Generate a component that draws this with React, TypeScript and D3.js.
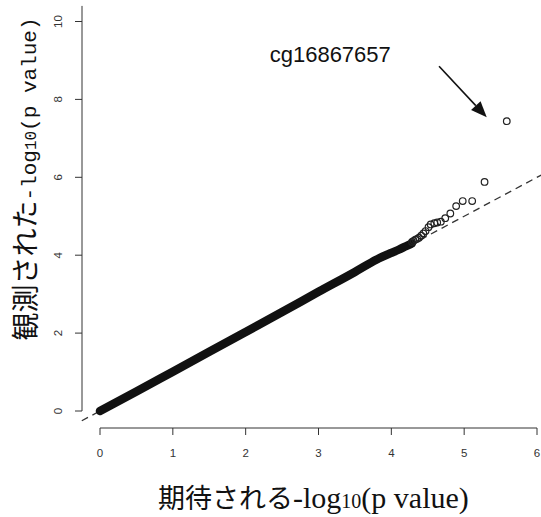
import React from 'react';
import * as d3 from 'd3';

// QQ plot: expected vs observed -log10(p)
const xTicks = [0, 1, 2, 3, 4, 5, 6];
const yTicks = [0, 2, 4, 6, 8, 10];

// dense part of the cloud (points overlap into a solid band)
const bandExpected = [0, 0.5, 1, 1.5, 2, 2.5, 3, 3.5, 3.8, 4.0, 4.1, 4.2, 4.28];
const bandObserved = [0, 0.5, 1.01, 1.52, 2.03, 2.54, 3.06, 3.57, 3.89, 4.06, 4.14, 4.23, 4.3];

// top ranked points, drawn one by one
const tailExpected = [5.585, 5.28, 5.11, 4.98, 4.89, 4.81, 4.74, 4.68, 4.63, 4.59, 4.54, 4.51, 4.47, 4.44, 4.41, 4.38, 4.355, 4.33, 4.306, 4.284];
const tailObserved = [7.44, 5.88, 5.39, 5.39, 5.26, 5.07, 4.95, 4.86, 4.84, 4.82, 4.79, 4.72, 4.62, 4.56, 4.5, 4.45, 4.42, 4.4, 4.37, 4.34];

const labelText = 'cg16867657';

export default function App() {
    const width = 541;
    const height = 517;

    const xScale = d3.scaleLinear().domain([0, 6]).range([100, 537]);
    const yScale = d3.scaleLinear().domain([0, 10]).range([411, 21.5]);

    const band = d3.line<number>()
        .x((d, i) => xScale(bandExpected[i]))
        .y((d, i) => yScale(bandObserved[i]))
        .curve(d3.curveMonotoneX);

    // y = x reference line
    const refLine = d3.line<number>()
        .x((d) => xScale(d))
        .y((d) => yScale(d));

    // annotation arrow (data coords)
    const ax0 = xScale(4.655), ay0 = yScale(8.85);
    const ax1 = xScale(5.31), ay1 = yScale(7.54);
    const ang = Math.atan2(ay1 - ay0, ax1 - ax0);
    const headLen = 16, headW = 6.5;
    const bx = ax1 - headLen * Math.cos(ang), by = ay1 - headLen * Math.sin(ang);
    const head = [
        [ax1, ay1],
        [bx + headW * Math.sin(ang), by - headW * Math.cos(ang)],
        [bx - headW * Math.sin(ang), by + headW * Math.cos(ang)],
    ].map((p) => p.join(',')).join(' ');

    const axisColor = '#333';
    const tickFont = '"Liberation Sans", Arial, sans-serif';

    return (
        <svg width={width} height={height} style={{ position: 'absolute', left: 0, top: 0, background: '#fff' }}>
            {/* reference line */}
            <path d={refLine([-0.25, 6.06]) || ''} fill="none" stroke="#333" strokeWidth={1.3} strokeDasharray="7,5" />

            {/* dense band of points */}
            <path d={band(bandExpected) || ''} fill="none" stroke="#111" strokeWidth={8.5}
                strokeLinecap="round" strokeLinejoin="round" />

            {/* individual points */}
            {tailExpected.map((e, i) => (
                <circle key={i} cx={xScale(e)} cy={yScale(tailObserved[i])} r={3.3}
                    fill="none" stroke="#222" strokeWidth={1.2} />
            ))}

            {/* x axis */}
            <line x1={xScale(0)} x2={xScale(6)} y1={428} y2={428} stroke={axisColor} strokeWidth={1} />
            {xTicks.map((t) => (
                <g key={t}>
                    <line x1={xScale(t)} x2={xScale(t)} y1={428} y2={435} stroke={axisColor} />
                    <text x={xScale(t)} y={457} textAnchor="middle" fontSize={11.5}
                        fontFamily={tickFont} fill="#333">{t}</text>
                </g>
            ))}

            {/* y axis */}
            <line x1={82} x2={82} y1={yScale(0)} y2={yScale(10.4)} stroke={axisColor} strokeWidth={1} />
            {yTicks.map((t) => (
                <g key={t}>
                    <line x1={75} x2={82} y1={yScale(t)} y2={yScale(t)} stroke={axisColor} />
                    <text transform={`translate(62,${yScale(t)}) rotate(-90)`} textAnchor="middle"
                        fontSize={11.5} fontFamily={tickFont} fill="#333">{t}</text>
                </g>
            ))}

            {/* x title */}
            <text x={158} y={508} fill="#111">
                <tspan fontFamily='"Noto Sans CJK JP", sans-serif' fontSize={27}>期待される</tspan>
                <tspan fontFamily='"Liberation Serif", serif' fontSize={30}>-log</tspan>
                <tspan fontFamily='"Liberation Serif", serif' fontSize={20}>10</tspan>
                <tspan fontFamily='"Liberation Serif", serif' fontSize={30}>(p value)</tspan>
            </text>

            {/* y title */}
            <text transform="translate(36,179) rotate(-90)" textAnchor="middle" fill="#111">
                <tspan fontFamily='"Noto Sans CJK JP", sans-serif' fontSize={28}>観測された</tspan>
                <tspan fontFamily='"Liberation Mono", monospace' fontSize={21}>-log</tspan>
                <tspan fontFamily='"Liberation Mono", monospace' fontSize={16}>10</tspan>
                <tspan fontFamily='"Liberation Mono", monospace' fontSize={21}>(p value)</tspan>
            </text>

            {/* annotation */}
            <text x={xScale(2.33)} y={yScale(8.95)} fontSize={22} fontFamily='"Liberation Sans", Arial, sans-serif' fill="#111">
                {labelText}
            </text>
            <line x1={ax0} y1={ay0} x2={bx} y2={by} stroke="#111" strokeWidth={1.6} />
            <polygon points={head} fill="#111" />
        </svg>
    );
}
